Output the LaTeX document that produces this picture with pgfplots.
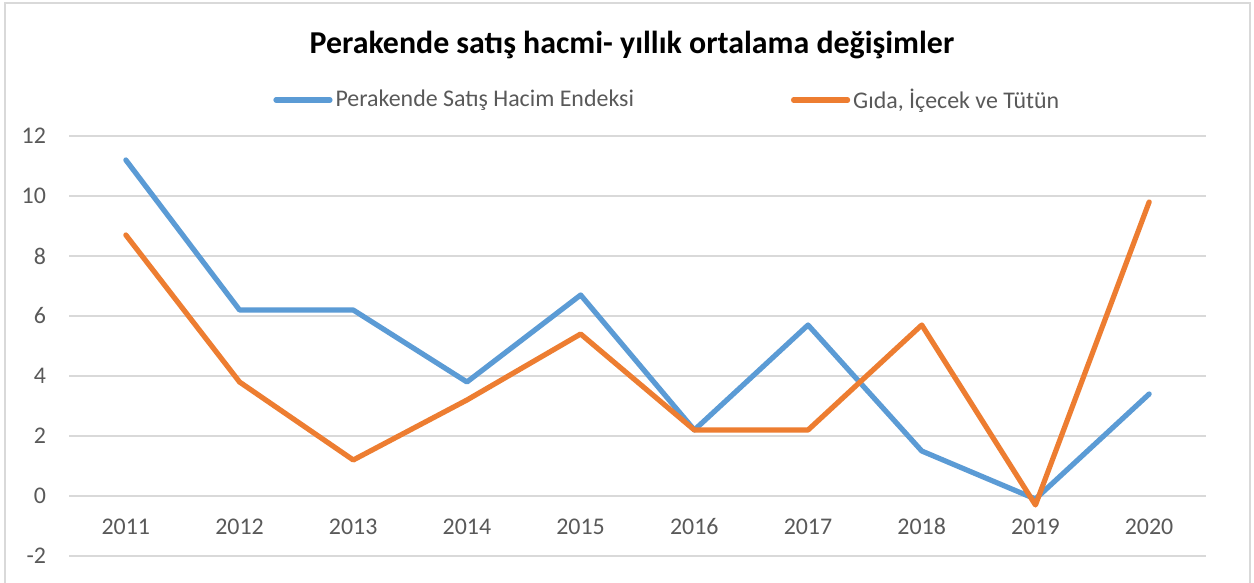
\documentclass[border=0pt]{standalone}
\usepackage{pgfplots}
\pgfplotsset{compat=1.18}
\usepackage{fontspec}
\setmainfont{Carlito}
\definecolor{cblue}{HTML}{5B9BD5}
\definecolor{corange}{HTML}{ED7D31}
\definecolor{cgrid}{HTML}{D9D9D9}
\definecolor{ctext}{HTML}{595959}
\begin{document}
\begin{tikzpicture}
\useasboundingbox (0,0) rectangle (627bp,291.5bp);
\fill[white] (0,0) rectangle (627bp,291.5bp);
\draw[cgrid, line width=0.75bp] (2.5bp,-2bp) -- (2.5bp,290bp) -- (625bp,290bp) -- (625bp,-2bp);
\node[font=\fontsize{16}{18}\selectfont\bfseries, text=black] at (316bp,269bp) {Perakende satış hacmi- yıllık ortalama değişimler};
\begin{axis}[
  at={(34.5bp,13.5bp)}, anchor=south west,
  scale only axis, width=568.5bp, height=210bp,
  xmin=2010.5, xmax=2020.5, ymin=-2, ymax=12,
  xtick={2011,...,2020}, ytick={-2,0,...,12},
  axis line style={draw=none}, major tick length=0,
  ymajorgrids, grid style={cgrid, line width=0.75bp},
  /pgf/number format/assume math mode=true,
  /pgf/number format/1000 sep={},
  tick label style={font=\fontsize{12}{14}\selectfont, text=ctext},
  xticklabel style={anchor=base, yshift=10.5bp},
  yticklabel style={xshift=-8bp},
  legend columns=2,
  legend style={at={(0.1794,1.0857)}, anchor=west, draw=none, fill=none, inner sep=0pt,
    font=\fontsize{12}{14}\selectfont, text=ctext,
    /tikz/every even column/.append style={column sep=77bp},
    nodes={inner sep=1.5bp}},
  legend image code/.code={\draw[#1, line cap=round] (0bp,0bp) -- (27bp,0bp);},
]
\addplot[cblue, line width=2.6bp, line join=round, line cap=round] coordinates {
(2011,11.2) (2012,6.2) (2013,6.2) (2014,3.8) (2015,6.7) (2016,2.2) (2017,5.7) (2018,1.5) (2019,-0.1) (2020,3.4)};
\addlegendentry{Perakende Satış Hacim Endeksi}
\addplot[corange, line width=2.6bp, line join=round, line cap=round] coordinates {
(2011,8.7) (2012,3.8) (2013,1.2) (2014,3.2) (2015,5.4) (2016,2.2) (2017,2.2) (2018,5.7) (2019,-0.3) (2020,9.8)};
\addlegendentry{Gıda, İçecek ve Tütün}
\end{axis}
\end{tikzpicture}
\end{document}
